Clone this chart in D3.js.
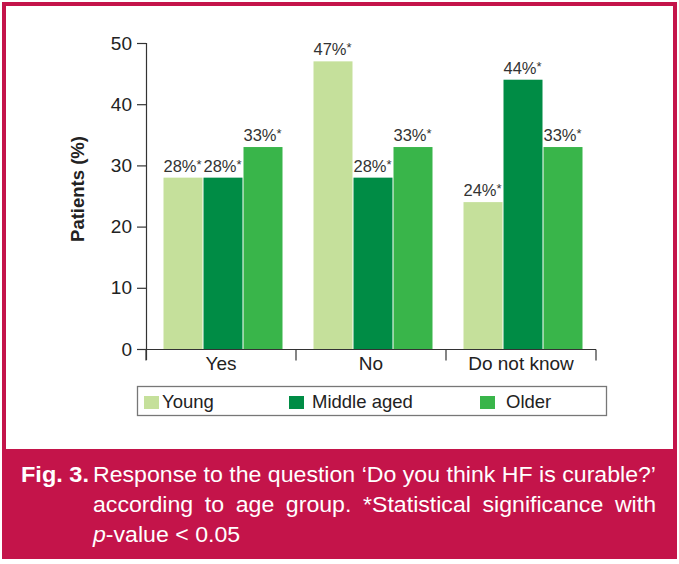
<!DOCTYPE html>
<html><head><meta charset="utf-8">
<script src="https://cdn.jsdelivr.net/npm/d3@7/dist/d3.min.js"></script>
<style>
html,body{margin:0;padding:0;background:#fff;}
svg{display:block;}
text{font-family:"Liberation Sans",Arial,Helvetica,sans-serif;}
</style></head>
<body>
<svg id="chart" width="679" height="564"></svg>
<script>
const categories = ["Yes", "No", "Do not know"];
const seriesNames = ["Young", "Middle aged", "Older"];
const young = [28, 47, 24];
const middleAged = [28, 28, 44];
const older = [33, 33, 33];
const yTicks = [0, 10, 20, 30, 40, 50];
const colors = ["#c5e09b", "#008c45", "#39b54a"];

const seriesValues = [young, middleAged, older];
const svg = d3.select("#chart");
const crimson = "#c4144a";

// frame
svg.append("rect").attr("x",2).attr("y",2).attr("width",675).attr("height",557).attr("fill",crimson);
svg.append("rect").attr("x",6).attr("y",6).attr("width",667).attr("height",443).attr("fill","#fff");

const x0 = d3.scaleBand().domain(categories).range([146, 596]).paddingInner(0).paddingOuter(0);
const x1 = d3.scaleBand().domain(seriesNames).range([17, 17 + 120]).padding(0);
const y = d3.scaleLinear().domain([0, 50]).range([349, 43]);

const g = svg.append("g");

// bars
categories.forEach((c, ci) => {
  seriesNames.forEach((s, si) => {
    const v = seriesValues[si][ci];
    const bx = x0(c) + x1(s);
    g.append("rect")
      .attr("x", bx + 0.5).attr("y", y(v))
      .attr("width", x1.bandwidth() - 1).attr("height", y(0) - y(v))
      .attr("fill", colors[si]);
    const t = g.append("text")
      .attr("x", bx + 0.5).attr("y", y(v) - 6)
      .attr("font-size", 16.5).attr("fill", "#333");
    t.append("tspan").text(v + "%");
    t.append("tspan").attr("font-size", 13).attr("dy", -3).text("*");
  });
});

// y axis
const yAxis = d3.axisLeft(y).tickValues(yTicks).tickSize(9).tickPadding(5);
const ya = svg.append("g").attr("transform", "translate(146,0)").call(yAxis);
ya.select(".domain").attr("d", "M-9,43.5H0.5V360").attr("stroke", "#333").attr("stroke-width", 1.2);
ya.selectAll(".tick line").attr("stroke", "#333").attr("stroke-width", 1.2);
ya.selectAll(".tick text").attr("font-size", 19).attr("fill", "#222").attr("font-family", "Liberation Sans, Arial, sans-serif");

// x axis
const xa = svg.append("g").attr("transform", "translate(0,349.5)");
xa.append("line").attr("x1", 146).attr("x2", 596).attr("stroke", "#333").attr("stroke-width", 1.2);
const xTickPos = categories.map(c => x0(c)).concat([x0.range()[1]]);
xa.selectAll(".xt").data(xTickPos).enter().append("line")
  .attr("x1", d => d).attr("x2", d => d).attr("y1", 0).attr("y2", 11)
  .attr("stroke", "#333").attr("stroke-width", 1.2);
xa.selectAll(".xl").data(categories).enter().append("text")
  .attr("x", d => x0(d) + x0.bandwidth() / 2).attr("y", 20)
  .attr("text-anchor", "middle").attr("font-size", 19).attr("fill", "#222").text(d => d);

// y title
svg.append("text").attr("transform", "translate(84,189) rotate(-90)")
  .attr("text-anchor", "middle").attr("font-size", 18.5).attr("font-weight", "bold").attr("fill", "#222")
  .text("Patients (%)");

// legend
svg.append("rect").attr("x", 137.5).attr("y", 386.5).attr("width", 469).attr("height", 29)
  .attr("fill", "#fff").attr("stroke", "#777").attr("stroke-width", 1.3);
const legX = [144, 289, 480];
const legTX = [162, 312, 506];
seriesNames.forEach((s, i) => {
  svg.append("rect").attr("x", legX[i]).attr("y", 396).attr("width", 15).attr("height", 13).attr("fill", colors[i]);
  svg.append("text").attr("x", legTX[i]).attr("y", 408).attr("font-size", 18.5).attr("fill", "#222").text(s);
});

// caption (condensed look via horizontal scale, justified lines)
const cap = svg.append("g").attr("fill", "#fff");
const capSize = 21.5;
const fig = cap.append("text").attr("y", 482).attr("font-size", capSize).attr("font-weight", "bold").text("Fig. 3.");
const figW = fig.node().getComputedTextLength();
fig.attr("transform", `translate(21,0) scale(${68 / figW},1)`);

const left = 93, right = 656;
const line1 = "Response to the question \u2018Do you think HF is curable?\u2019";
const tmp = cap.append("text").attr("font-size", capSize).text(line1);
const natural1 = tmp.node().getComputedTextLength();
tmp.remove();
const sx = (right - left) / natural1;

function justifyLine(str, yPos, justify) {
  const words = str.split(" ");
  const grp = cap.append("g").attr("transform", `translate(${left},${yPos}) scale(${sx},1)`);
  const ws = words.map(w => {
    const t = grp.append("text").attr("font-size", capSize).text(w);
    return {t, w: t.node().getComputedTextLength()};
  });
  const total = ws.reduce((a, b) => a + b.w, 0);
  const avail = (right - left) / sx;
  const spaceNat = capSize * 0.278;
  const gap = justify ? (avail - total) / (words.length - 1) : spaceNat;
  let cx = 0;
  ws.forEach(o => { o.t.attr("x", cx); cx += o.w + gap; });
}
justifyLine(line1, 482, true);
justifyLine("according to age group. *Statistical significance with", 512, true);
const g3 = cap.append("g").attr("transform", `translate(${left},542) scale(${sx},1)`);
const l3 = g3.append("text").attr("font-size", capSize);
l3.append("tspan").attr("font-style", "italic").text("p");
l3.append("tspan").text("-value < 0.05");
</script>
</body></html>
